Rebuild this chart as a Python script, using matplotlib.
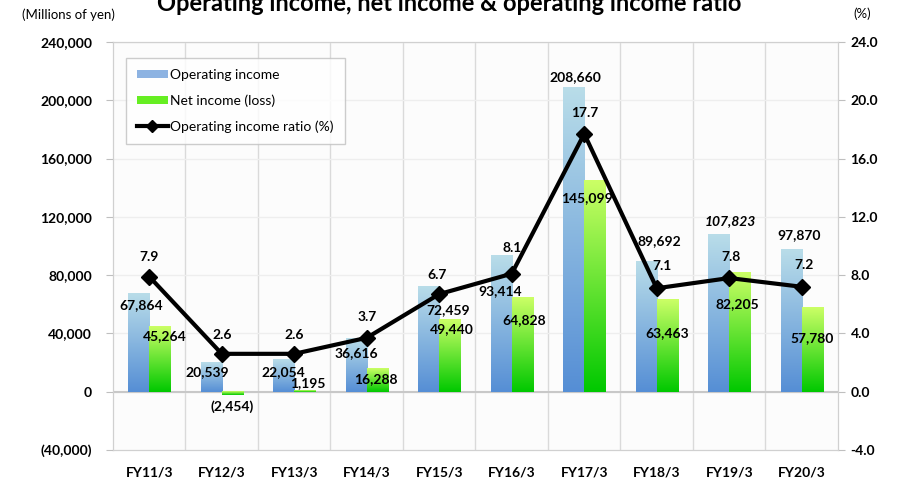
import matplotlib.pyplot as plt
import numpy as np
from matplotlib.patches import Patch
from matplotlib.lines import Line2D
from matplotlib.colors import LinearSegmentedColormap

plt.rcParams['font.family'] = ['Lato', 'DejaVu Sans']

years = ["FY11/3", "FY12/3", "FY13/3", "FY14/3", "FY15/3",
         "FY16/3", "FY17/3", "FY18/3", "FY19/3", "FY20/3"]
op_income = [67864, 20539, 22054, 36616, 72459, 93414, 208660, 89692, 107823, 97870]
net_income = [45264, -2454, 1195, 16288, 49440, 64828, 145099, 63463, 82205, 57780]
op_ratio = [7.9, 2.6, 2.6, 3.7, 6.7, 8.1, 17.7, 7.1, 7.8, 7.2]

# label offsets in pixels (dx, dy) from the bar end / marker
op_off = [(2, -12), (-4, -10), (0, -12), (0, -15), (19, -24),
          (-1, -35), (2, 11), (13, 20), (12, 14), (8, 14)]
net_off = [(5, -10), (0, -11), (3, 7), (-1, -11), (2, -9),
           (2, -23), (-8, -18), (0, -34), (-2, -32), (0, -31)]
ratio_off = [(0, 20), (0, 19), (0, 19), (0, 21), (-2, 19),
             (0, 26), (0, 21), (5, 22), (2, 21), (2, 22)]


def fmt(v):
    return "({:,})".format(-v) if v < 0 else "{:,}".format(v)


blue_cmap = LinearSegmentedColormap.from_list("b", ["#558ed5", "#b9dde9"])
green_cmap = LinearSegmentedColormap.from_list("g", ["#00c800", "#ccff66"])

fig = plt.figure(figsize=(8.99, 4.82), dpi=100)
ax = fig.add_axes([113 / 899, 1 - 450 / 482, 725 / 899, 408 / 482])
ax.set_facecolor("#fcfcfc")

x = np.arange(len(years))
w = 0.29


def grad_bars(xs, vals, cmap):
    bars = ax.bar(xs, vals, w, color="none", zorder=2)
    grad = np.linspace(0, 1, 256).reshape(-1, 1)
    for b in bars:
        x0, y0 = b.get_x(), b.get_y()
        h = b.get_height()
        ax.imshow(grad, cmap=cmap, origin="lower", aspect="auto",
                  extent=[x0, x0 + b.get_width(), min(y0, y0 + h), max(y0, y0 + h)],
                  zorder=2)
    return bars


grad_bars(x - w / 2, op_income, blue_cmap)
grad_bars(x + w / 2, net_income, green_cmap)

ax.set_xlim(-0.5, len(years) - 0.5)
ax.set_ylim(-40000, 240000)
ax.set_yticks(np.arange(-40000, 240001, 40000))
ax.set_yticklabels([fmt(v) for v in range(-40000, 240001, 40000)],
                   fontsize=10, fontweight="bold")
ax.set_xticks(x)
ax.set_xticklabels(years, fontsize=10, fontweight="bold")
ax.tick_params(axis="x", length=0, pad=12)
ax.tick_params(axis="y", length=5, color="#bfbfbf", pad=10)

for xv in np.arange(0.5, len(years) - 0.5, 1):
    ax.axvline(xv, color="#dadada", lw=1, zorder=0)
for yv in range(0, 240001, 40000):
    ax.axhline(yv, color="#eeeeee", lw=1, zorder=0)
ax.axhline(0, color="#c8c8c8", lw=1.5, zorder=1)
for s in ["left", "right", "bottom", "top"]:
    ax.spines[s].set_color("#d0d0d0")

ax2 = ax.twinx()
ax2.set_ylim(-4, 24)
ax2.set_yticks(np.arange(-4, 24.1, 4))
ax2.set_yticklabels(["{:.1f}".format(v) for v in np.arange(-4, 24.1, 4)],
                    fontsize=10, fontweight="bold")
ax2.tick_params(axis="y", length=5, color="#bfbfbf", pad=4)
for s in ["left", "right", "bottom", "top"]:
    ax2.spines[s].set_color("#d0d0d0")
ax2.plot(x, op_ratio, color="black", lw=3, marker="D", markersize=8, zorder=5)

for i in range(len(years)):
    ax.annotate(fmt(op_income[i]), (x[i] - w / 2, op_income[i]),
                xytext=op_off[i], textcoords="offset pixels",
                ha="center", va="center", fontsize=10, fontweight="bold",
                fontstyle="italic" if i == 8 else "normal", zorder=6)
    yb = net_income[i]
    ax.annotate(fmt(net_income[i]), (x[i] + w / 2, yb),
                xytext=net_off[i], textcoords="offset pixels",
                ha="center", va="center", fontsize=10, fontweight="bold", zorder=6)
    ax2.annotate("{:.1f}".format(op_ratio[i]), (x[i], op_ratio[i]),
                 xytext=ratio_off[i], textcoords="offset pixels",
                 ha="center", va="center", fontsize=10, fontweight="bold", zorder=6)

handles = [Patch(facecolor="#8db3e2"), Patch(facecolor="#66ee22"),
           Line2D([0], [0], color="black", lw=3, marker="D", markersize=6)]
leg = ax2.legend(handles, ["Operating income", "Net income (loss)",
                           "Operating income ratio (%)"],
                 loc="upper left", bbox_to_anchor=(0.018, 0.961), borderaxespad=0,
                 fontsize=10, frameon=True, fancybox=False, edgecolor="#c0c0c0",
                 handlelength=2.2, handleheight=0.5, handletextpad=0.2,
                 labelspacing=0.95, borderpad=0.8)
leg.get_frame().set_linewidth(1)

fig.text(0.5, 1 - 11 / 482, "Operating income, net income & operating income ratio",
         ha="center", va="baseline", fontsize=17, fontweight="bold")
fig.text(68 / 899, 1 - 15 / 482, "(Millions of yen)", ha="center", va="center",
         fontsize=9.5)
fig.text(862 / 899, 1 - 14 / 482, "(%)", ha="center", va="center", fontsize=9.5)

fig.savefig("out.png", dpi=100)
